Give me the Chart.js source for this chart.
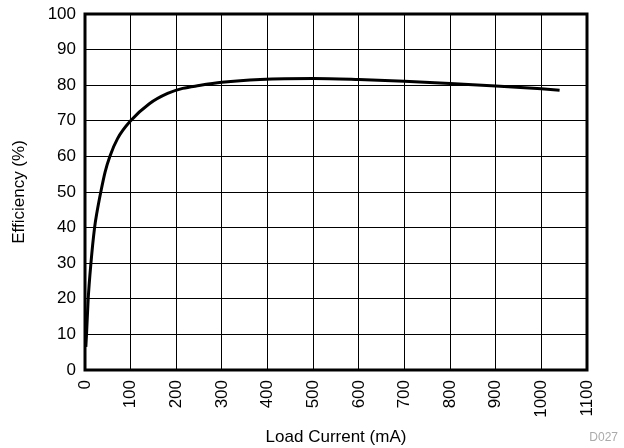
<!DOCTYPE html>
<html>
<head>
<meta charset="utf-8">
<script src="https://cdn.jsdelivr.net/npm/chart.js@4"></script>
<style>
  html, body { margin: 0; padding: 0; background: #fff; }
  #wrap { width: 624px; height: 448px; }
</style>
</head>
<body>
<div id="wrap"><canvas id="effChart"></canvas></div>
<script>
// --- Data ---
const loadCurrent = [1.8, 3.3, 7, 13, 21, 26.5, 34.6, 44, 54.4, 71.3, 100, 141, 181, 214, 250, 300, 384, 500, 600, 700, 800, 900, 1000, 1040];
const efficiency  = [6.5, 10, 20, 30, 40, 44.5, 50, 55.6, 60, 65, 70, 74.8, 77.7, 79.1, 79.9, 80.8, 81.6, 81.9, 81.6, 81.1, 80.5, 79.8, 79, 78.6];

const xTitle = 'Load Current (mA)';
const yTitle = 'Efficiency (%)';
const figId = 'D027';

const points = loadCurrent.map((x, i) => ({ x: x, y: efficiency[i] }));

// frame around the plot area + the figure id in the corner
const framePlugin = {
    id: 'frame',
    beforeDatasetsDraw(chart) {
        const { ctx, chartArea: a } = chart;
        ctx.save();
        ctx.strokeStyle = '#000';
        ctx.lineWidth = 3;
        ctx.strokeRect(a.left, a.top, a.right - a.left, a.bottom - a.top);
        ctx.restore();
    },
    afterDraw(chart) {
        const ctx = chart.ctx;
        ctx.save();
        ctx.fillStyle = '#aaa';
        ctx.font = '12px "Liberation Sans", Arial, sans-serif';
        ctx.textAlign = 'right';
        ctx.textBaseline = 'middle';
        ctx.fillText(figId, 618, 438);
        ctx.restore();
    }
};

const font = { family: '"Liberation Sans", Arial, sans-serif', size: 17 };

new Chart(document.getElementById('effChart'), {
    type: 'line',
    data: {
        datasets: [{
            data: points,
            borderColor: '#000',
            borderWidth: 3,
            pointRadius: 0,
            fill: false,
            cubicInterpolationMode: 'monotone'
        }]
    },
    options: {
        responsive: true,
        maintainAspectRatio: false,
        animation: false,
        layout: { padding: { left: 0, top: 14, right: 37, bottom: 0 } },
        plugins: { legend: { display: false }, tooltip: { enabled: false } },
        scales: {
            x: {
                type: 'linear',
                min: 0,
                max: 1100,
                afterFit: s => { s.height = 78; s.paddingLeft = 0; s.paddingRight = 0; },
                grid: { color: '#000', lineWidth: 1, drawTicks: false },
                border: { display: false },
                ticks: {
                    stepSize: 100,
                    autoSkip: false,
                    minRotation: 90,
                    maxRotation: 90,
                    padding: 10,
                    color: '#000',
                    font: font,
                    callback: v => String(v)
                },
                title: { display: true, text: xTitle, color: '#000', font: font, padding: { top: 0, bottom: 0 } }
            },
            y: {
                min: 0,
                max: 100,
                afterFit: s => { s.width = 85; s.paddingTop = 0; s.paddingBottom = 0; },
                grid: { color: '#000', lineWidth: 1, drawTicks: false },
                border: { display: false },
                ticks: { stepSize: 10, padding: 9, color: '#000', font: font },
                title: { display: true, text: yTitle, color: '#000', font: font, padding: { top: 9, bottom: 0 } }
            }
        }
    },
    plugins: [framePlugin]
});
</script>
</body>
</html>
